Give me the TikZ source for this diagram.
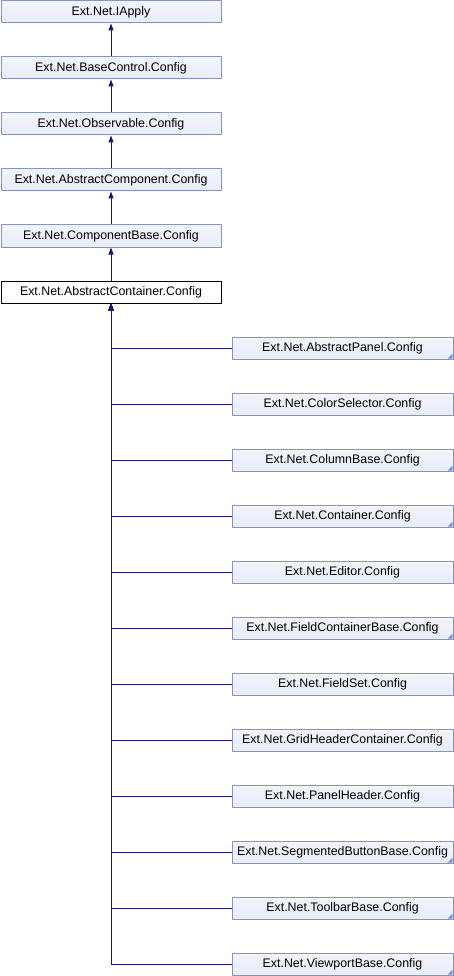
\documentclass[tikz,border=0pt]{standalone}
\usepackage{fontspec}
\setmainfont{Liberation Sans}
\usetikzlibrary{arrows.meta}
\definecolor{boxfill}{HTML}{E8ECF7}
\definecolor{boxtop}{HTML}{F2F4FB}
\definecolor{boxline}{HTML}{8494C4}
\definecolor{edgeblue}{HTML}{191970}
\tikzset{
  cls/.style={draw=boxline, line width=1pt, top color=boxtop, bottom color=boxfill,
    minimum height=22pt, inner sep=0pt, font=\fontsize{12.4}{14}\selectfont, text=black},
  leftcls/.style={cls, minimum width=220pt},
  rightcls/.style={cls, minimum width=221pt},
  current/.style={draw=black, line width=1pt, fill=white, minimum width=220pt,
    minimum height=22pt, inner sep=0pt, font=\fontsize{12.4}{14}\selectfont},
  more/.style={path picture={
    \fill[boxline] ([xshift=-0.5pt,yshift=0.5pt]path picture bounding box.south east)
      -- ++(-5pt,0) -- ++(5pt,5pt) -- cycle;}},
  inherit/.style={draw=edgeblue, line width=1pt, -{Triangle[length=7pt,width=5pt]}}
}
\begin{document}
\begin{tikzpicture}[x=1pt,y=-1pt]
\useasboundingbox (0,0) rectangle (454,976);
% base chain
\node[leftcls] (iapply) at (111,12) {Ext.Net.IApply};
\node[leftcls] (basecontrol) at (111,68) {Ext.Net.BaseControl.Config};
\node[leftcls] (observable) at (111,124) {Ext.Net.Observable.Config};
\node[leftcls] (abscomp) at (111,180) {Ext.Net.AbstractComponent.Config};
\node[leftcls] (compbase) at (111,236) {Ext.Net.ComponentBase.Config};
\node[current] (abscont) at (111,292) {Ext.Net.AbstractContainer.Config};
\draw[inherit] (basecontrol) -- (iapply);
\draw[inherit] (observable) -- (basecontrol);
\draw[inherit] (abscomp) -- (observable);
\draw[inherit] (compbase) -- (abscomp);
\draw[inherit] (abscont) -- (compbase);
% derived classes
\foreach \n/\t/\m [count=\i from 0] in {
  absp/AbstractPanel/more,
  colsel/ColorSelector/,
  colbase/ColumnBase/more,
  cont/Container/more,
  editor/Editor/,
  fcbase/FieldContainerBase/more,
  fset/FieldSet/,
  ghc/GridHeaderContainer/,
  phead/PanelHeader/,
  sbb/SegmentedButtonBase/more,
  tbase/ToolbarBase/more,
  vbase/ViewportBase/more}{
  \node[rightcls,\m] (\n) at (342.5,348+56*\i) {Ext.Net.\t.Config};
  \draw[inherit] (\n.west) -| (abscont.south);
}
\end{tikzpicture}
\end{document}
